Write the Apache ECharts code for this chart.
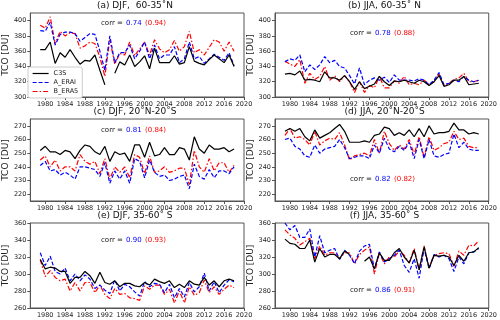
<!DOCTYPE html>
<html>
<head>
<meta charset="utf-8">
<script src="https://cdn.jsdelivr.net/npm/echarts@6/dist/echarts.min.js"></script>
<style>
  html, body { margin: 0; padding: 0; background: #fff; }
  #chart { width: 500px; height: 320px; }
</style>
</head>
<body>
<div id="chart"></div>
<script>
// years 1979-2018
const years = [1979, 1980, 1981, 1982, 1983, 1984, 1985, 1986, 1987, 1988,
  1989, 1990, 1991, 1992, 1993, 1994, 1995, 1996, 1997, 1998,
  1999, 2000, 2001, 2002, 2003, 2004, 2005, 2006, 2007, 2008,
  2009, 2010, 2011, 2012, 2013, 2014, 2015, 2016, 2017, 2018];
const xTicks = [1980, 1984, 1988, 1992, 1996, 2000, 2004, 2008, 2012, 2016, 2020];
const seriesNames = ['C3S', 'A_ERAI', 'B_ERA5'];

// (a) DJF 60-35N
const aC3S = [362, 362, 372, 344, 358, 352, 362, 352, 343, 348, 347, 355, 335, 316, null, 331, 346, 342, 355, 340,
  346, 354, 337, 364, 345, 345, 345, 354, 343, 345, 366, 347, 344, 342, 349, 355, 350, 345, 355, 340];
const aERAI = [387, 386, 398, 368, 382, 385, 385, 383, 373, 378, 383, 382, 360, 335, 380, 345, 358, 358, 368, 350,
  360, 372, 350, 368, 350, 355, 355, 366, 345, 350, 372, 350, 353, 344, 350, 356, 352, 348, 358, 341];
const aERA5 = [394, 390, 405, 370, 386, 380, 384, 383, 364, 367, 372, 370, 352, 327, 375, 343, 357, 355, 372, 354,
  363, 372, 355, 375, 363, 358, 362, 374, 360, 366, 386, 358, 362, 355, 365, 375, 372, 360, 372, 360];

// (b) JJA 60-35N
const bC3S = [330, 331, 329, 334, 322, 323, 322, 320, 333, 325, 325, 322, 328, 320, 310, 320, 311, 314, 317, 327,
  320, 315, 321, 320, 322, 320, 318, 322, 320, 315, 320, 328, 314, 316, 322, 322, 327, 316, 317, 318];
const bERAI = [346, 350, 348, 355, 333, 342, 336, 342, 353, 345, 348, 340, 338, 328, 317, 338, 316, 322, 325, 322,
  326, 319, 329, 322, 322, 322, 321, 324, 322, 316, 322, 332, 316, 318, 322, 320, 327, 322, 320, 322];
const bERA5 = [347, 343, 340, 349, 318, 331, 323, 327, 340, 322, 328, 320, 328, 320, 306, 320, 306, 315, 312, 327,
  312, 312, 321, 318, 327, 316, 318, 316, 322, 316, 320, 330, 315, 318, 323, 325, 331, 320, 320, 322];

// (c) DJF 20N-20S
const cC3S = [252, 255, 251, 251, 249, 252, 251, 246, 252, 256, 255, 251, 249, 255, 244, 251, 249, 250, 244, 256,
  256, 247, 258, 248, 249, 254, 249, 249, 254, 253, 245, 262, 253, 250, 256, 253, 253, 254, 251, 253];
const cERAI = [241, 244, 237, 238, 234, 236, 234, 231, 240, 240, 239, 238, 233, 243, 228, 237, 231, 237, 228, 246,
  244, 232, 245, 236, 233, 234, 230, 231, 233, 234, 224, 242, 233, 231, 238, 232, 237, 237, 235, 240];
const cERA5 = [245, 248, 240, 245, 237, 240, 240, 237, 249, 244, 242, 244, 235, 246, 231, 240, 236, 240, 232, 249,
  247, 235, 248, 236, 237, 240, 236, 237, 239, 239, 227, 252, 240, 236, 246, 237, 243, 243, 236, 241];

// (d) JJA 20N-20S
const dC3S = [266, 268, 266, 268, 262, 259, 267, 261, 263, 265, 268, 271, 266, 258, 258, 258, 259, 258, 263, 264,
  269, 268, 263, 265, 263, 267, 262, 268, 262, 270, 264, 265, 265, 266, 272, 267, 267, 264, 265, 264];
const dERAI = [260, 261, 255, 253, 248, 247, 256, 250, 253, 254, 255, 260, 254, 246, 247, 248, 248, 246, 256, 250,
  261, 253, 251, 255, 252, 258, 246, 260, 246, 260, 248, 247, 249, 250, 264, 254, 258, 253, 252, 252];
const dERA5 = [263, 268, 261, 262, 260, 256, 266, 256, 259, 261, 260, 265, 256, 245, 248, 249, 250, 248, 260, 250,
  266, 257, 252, 256, 253, 260, 249, 262, 247, 262, 252, 254, 257, 258, 266, 260, 261, 255, 254, 254];

// (e) DJF 35-60S
const eC3S = [317, 306, 308, 307, 303, 303, 289, 296, 296, 303, 298, 289, 302, 290, 288, 292, 285, 289, 289, 286,
  285, 290, 287, 294, 291, 289, 292, 284, 288, 284, 292, 288, 287, 296, 287, 292, 285, 292, 294, 292];
const eERAI = [325, 310, 321, 303, 300, 307, 292, 300, 292, 299, 294, 283, 287, 281, 277, 293, 280, 288, 285, 279,
  274, 291, 285, 289, 288, 278, 288, 272, 283, 273, 290, 279, 285, 301, 280, 291, 278, 287, 293, 291];
const eERA5 = [317, 297, 304, 296, 292, 294, 280, 290, 280, 290, 290, 278, 287, 276, 271, 283, 276, 277, 272, 271,
  269, 286, 282, 287, 287, 276, 282, 266, 280, 266, 285, 275, 278, 293, 278, 285, 276, 282, 287, 284];

// (f) JJA 35-60S
const fC3S = [341, 336, 335, 330, 330, 340, 314, 330, 320, 323, 323, 318, 327, 323, null, null, 315, 320, 306, 325,
  316, 316, 325, 330, 320, 313, 328, 305, 332, 307, 322, 321, 322, 320, 310, 322, 315, 325, 326, 331];
const fERAI = [360, 352, 357, 343, 343, 353, 320, 345, 325, 328, 330, 317, 328, 322, 312, 327, 333, 335, 306, 326,
  314, 318, 322, 328, 310, 302, 318, 295, 330, 306, 323, 320, 322, 318, 303, 320, 312, 325, 326, 330];
const fERA5 = [352, 346, 342, 334, 338, 342, 318, 333, 322, 325, 325, 318, 325, 325, 312, 323, 328, 332, 300, 325,
  312, 320, 320, 327, 322, 313, 330, 305, 333, 307, 322, 324, 325, 324, 309, 327, 322, 334, 333, 339];

const ticksTop = [300, 320, 340, 360, 380, 400];
const ticksMid = [220, 230, 240, 250, 260, 270];
const ticksBot = [260, 280, 300, 320, 340, 360];

const panels = [
  { title: '(a) DJF,  60-35\u02daN', left: 26, top: 13, width: 218, height: 84, ymin: 300, ymax: 410, yticks: ticksTop,
    data: [aC3S, aERAI, aERA5], corr: ['0.74', '(0.94)'], cx: 101, cy: 23 },
  { title: '(b) JJA, 60-35\u02da N', left: 275, top: 13, width: 219, height: 84, ymin: 300, ymax: 410, yticks: ticksTop,
    data: [bC3S, bERAI, bERA5], corr: ['0.78', '(0.88)'], cx: 350, cy: 33 },
  { title: '(c) DJF, 20\u02daN-20\u02daS', left: 26, top: 119, width: 218, height: 82, ymin: 215, ymax: 275, yticks: ticksMid,
    data: [cC3S, cERAI, cERA5], corr: ['0.81', '(0.84)'], cx: 101, cy: 130 },
  { title: '(d) JJA, 20\u02daN-20\u02daS', left: 275, top: 119, width: 219, height: 82, ymin: 215, ymax: 275, yticks: ticksMid,
    data: [dC3S, dERAI, dERA5], corr: ['0.82', '(0.82)'], cx: 350, cy: 179 },
  { title: '(e) DJF, 35-60\u02da S', left: 26, top: 223, width: 218, height: 85, ymin: 260, ymax: 360, yticks: ticksBot,
    data: [eC3S, eERAI, eERA5], corr: ['0.90', '(0.93)'], cx: 101, cy: 240 },
  { title: '(f) JJA, 35-60\u02da S', left: 275, top: 223, width: 219, height: 85, ymin: 260, ymax: 360, yticks: ticksBot,
    data: [fC3S, fERAI, fERA5], corr: ['0.86', '(0.91)'], cx: 350, cy: 290 }
];

const font = 'DejaVu Sans';
const lineStyles = [
  { color: '#000000', width: 1.2, type: 'solid' },
  { color: '#0000ff', width: 1.2, type: [4, 2] },
  { color: '#ff0000', width: 1.2, type: [5, 2, 1.5, 2] }
];
const plain = function (v) { return String(v); };

const grid = [], xAxis = [], yAxis = [], series = [], graphic = [];
panels.forEach(function (p, i) {
  grid.push({ left: p.left, top: p.top, width: p.width, height: p.height, containLabel: false,
    show: true, borderColor: '#555', borderWidth: 1, backgroundColor: 'transparent' });
  xAxis.push({
    type: 'value', gridIndex: i, min: 1977, max: 2020,
    axisLine: { show: true, lineStyle: { color: '#555', width: 1 } },
    axisTick: { show: true, length: 3, customValues: xTicks, lineStyle: { color: '#555' } },
    axisLabel: { show: true, customValues: xTicks, formatter: plain, fontSize: 6.5, color: '#222', fontFamily: font, margin: 4 },
    splitLine: { show: false }
  });
  yAxis.push({
    type: 'value', gridIndex: i, min: p.ymin, max: p.ymax,
    name: 'TCO [DU]', nameLocation: 'middle', nameGap: 18, nameRotate: 90,
    nameTextStyle: { fontSize: 9, color: '#222', fontFamily: font },
    axisLine: { show: true, lineStyle: { color: '#555', width: 1 } },
    axisTick: { show: true, length: 3, customValues: p.yticks, lineStyle: { color: '#555' } },
    axisLabel: { show: true, customValues: p.yticks, formatter: plain, fontSize: 6.5, color: '#222', fontFamily: font, margin: 4 },
    splitLine: { show: false }
  });
  p.data.forEach(function (vals, k) {
    series.push({
      name: seriesNames[k], type: 'line', xAxisIndex: i, yAxisIndex: i,
      data: years.map(function (y, j) { return [y, vals[j]]; }),
      showSymbol: false, symbol: 'none', connectNulls: false, animation: false,
      lineStyle: lineStyles[k], itemStyle: { color: lineStyles[k].color }, z: 3 - k
    });
  });
  graphic.push({ type: 'text', x: p.left + p.width / 2, y: p.top - 7,
    style: { text: p.title, fill: '#111', font: '9px ' + font, textAlign: 'center', textVerticalAlign: 'middle' } });
  graphic.push({ type: 'text', x: p.cx, y: p.cy,
    style: { text: 'corr =', fill: '#111', font: '7px ' + font, textAlign: 'left', textVerticalAlign: 'middle' } });
  graphic.push({ type: 'text', x: p.cx + 25, y: p.cy,
    style: { text: p.corr[0], fill: '#0000ff', font: '7px ' + font, textAlign: 'left', textVerticalAlign: 'middle' } });
  graphic.push({ type: 'text', x: p.cx + 44, y: p.cy,
    style: { text: p.corr[1], fill: '#ff0000', font: '7px ' + font, textAlign: 'left', textVerticalAlign: 'middle' } });
});

const option = {
  animation: false,
  backgroundColor: '#fff',
  grid: grid,
  xAxis: xAxis,
  yAxis: yAxis,
  series: series,
  graphic: graphic,
  legend: {
    data: seriesNames, orient: 'vertical', left: 28, top: 67,
    itemWidth: 16, itemHeight: 6, itemGap: 2, padding: [3, 4, 3, 4],
    borderColor: '#ccc', borderWidth: 1, borderRadius: 2, backgroundColor: '#fff',
    itemStyle: { opacity: 0 },
    lineStyle: { width: 1.2 },
    textStyle: { fontSize: 6.5, color: '#222', fontFamily: font }
  }
};

const chart = echarts.init(document.getElementById('chart'));
chart.setOption(option);
</script>
</body>
</html>
